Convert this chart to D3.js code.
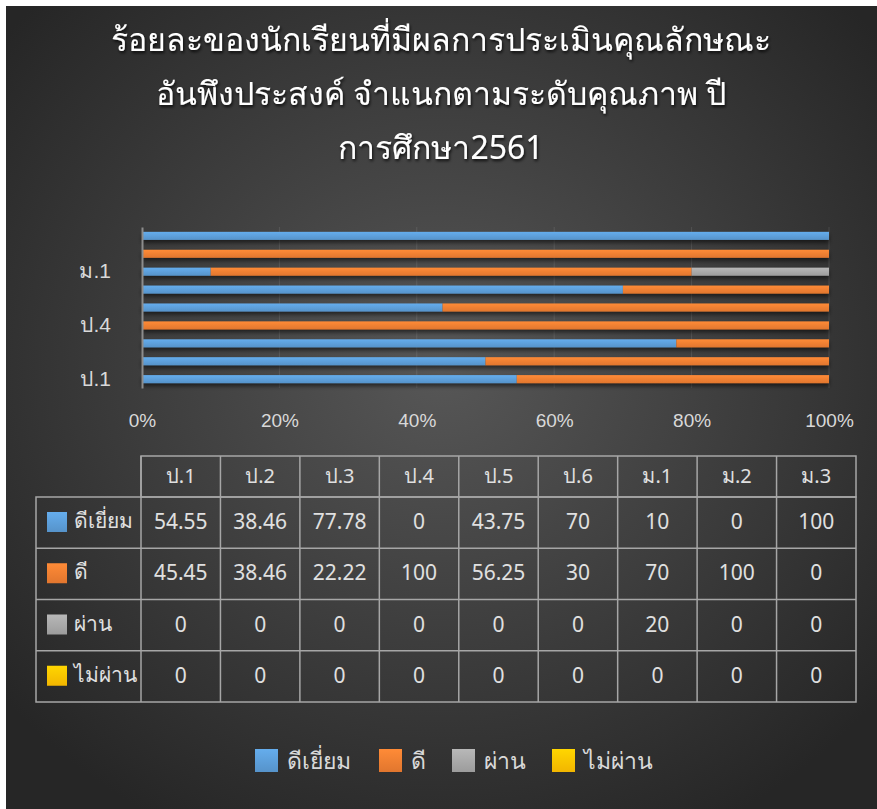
<!DOCTYPE html>
<html>
<head>
<meta charset="utf-8">
<script src="https://cdn.jsdelivr.net/npm/d3@7"></script>
<style>
  html, body { margin: 0; padding: 0; background: #fff; }
  svg { display: block; font-family: "Noto Sans", "DejaVu Sans", sans-serif; }
</style>
</head>
<body>
<script>
// ข้อมูล
const categories = ['ป.1', 'ป.2', 'ป.3', 'ป.4', 'ป.5', 'ป.6', 'ม.1', 'ม.2', 'ม.3'];
const seriesNames = ['ดีเยี่ยม', 'ดี', 'ผ่าน', 'ไม่ผ่าน'];
const excellent = [54.55, 38.46, 77.78, 0, 43.75, 70, 10, 0, 100];
const good = [45.45, 38.46, 22.22, 100, 56.25, 30, 70, 100, 0];
const passed = [0, 0, 0, 0, 0, 0, 20, 0, 0];
const failed = [0, 0, 0, 0, 0, 0, 0, 0, 0];
const axisLabels = ['ป.1', 'ป.4', 'ม.1'];
const titleLines = ['ร้อยละของนักเรียนที่มีผลการประเมินคุณลักษณะ', 'อันพึงประสงค์ จำแนกตามระดับคุณภาพ ปี', 'การศึกษา2561'];

const colors = ['#5b9bd5', '#ed7d31', '#a5a5a5', '#ffc000'];
const seriesValues = [excellent, good, passed, failed];

const rows = categories.map((c, i) => {
    const r = { cat: c };
    seriesNames.forEach((s, j) => r[s] = seriesValues[j][i]);
    return r;
});

const width = 877, height = 809;
const svg = d3.select('body').append('svg')
    .attr('width', width)
    .attr('height', height);

const defs = svg.append('defs');
const bg = defs.append('radialGradient').attr('id', 'bg')
    .attr('cx', '50%').attr('cy', '45%').attr('r', '65%');
bg.append('stop').attr('offset', '0%').attr('stop-color', '#575757');
bg.append('stop').attr('offset', '100%').attr('stop-color', '#262626');

defs.append('filter').attr('id', 'barShadow')
    .attr('x', '-5%').attr('y', '-50%').attr('width', '110%').attr('height', '250%')
    .append('feDropShadow').attr('dx', 0).attr('dy', 3).attr('stdDeviation', 2)
    .attr('flood-color', '#000').attr('flood-opacity', 0.55);
defs.append('filter').attr('id', 'textShadow')
    .append('feDropShadow').attr('dx', 1).attr('dy', 2).attr('stdDeviation', 1.5)
    .attr('flood-color', '#000').attr('flood-opacity', 0.8);

colors.forEach((c, i) => {
    const g = defs.append('linearGradient').attr('id', 'fill' + i)
        .attr('x1', 0).attr('y1', 0).attr('x2', 0).attr('y2', 1);
    g.append('stop').attr('offset', '0%').attr('stop-color', d3.color(c).brighter(0.3));
    g.append('stop').attr('offset', '100%').attr('stop-color', d3.color(c).darker(0.15));
});

svg.append('rect')
    .attr('x', 6).attr('y', 6)
    .attr('width', width - 6).attr('height', height - 6)
    .attr('fill', 'url(#bg)');

// ชื่อกราฟ
svg.append('g')
    .attr('filter', 'url(#textShadow)')
    .selectAll('text')
    .data(titleLines)
    .enter().append('text')
    .attr('x', 441)
    .attr('y', (d, i) => 51 + i * 54)
    .attr('text-anchor', 'middle')
    .attr('fill', '#fff')
    .style('font-size', '32px')
    .text(d => d);

// scales
const x = d3.scaleLinear().domain([0, 1]).range([142, 829]);
const y = d3.scaleBand().domain(categories.slice().reverse()).range([227, 388]).paddingInner(0.55).paddingOuter(0.27);

const stack = d3.stack().keys(seriesNames).offset(d3.stackOffsetExpand);
const stacked = stack(rows);

// gridlines
svg.append('g')
    .selectAll('line')
    .data(x.ticks(5).filter(t => t > 0))
    .enter().append('line')
    .attr('x1', d => x(d)).attr('x2', d => x(d))
    .attr('y1', 227).attr('y2', 388)
    .attr('stroke', '#fff').attr('stroke-opacity', 0.1);

// bars
const gBars = svg.append('g').attr('filter', 'url(#barShadow)');
gBars.selectAll('g')
    .data(stacked)
    .enter().append('g')
    .attr('fill', (d, i) => `url(#fill${i})`)
    .selectAll('rect')
    .data(d => d)
    .enter().append('rect')
    .attr('x', d => x(d[0]))
    .attr('width', d => x(d[1]) - x(d[0]))
    .attr('y', d => y(d.data.cat))
    .attr('height', y.bandwidth());

// axes
const xAxis = svg.append('g')
    .attr('transform', 'translate(0,410)')
    .call(d3.axisBottom(x).ticks(5).tickFormat(d3.format('.0%')).tickSize(0));
xAxis.select('.domain').remove();
xAxis.selectAll('text').attr('fill', '#d9d9d9').style('font-size', '19px').attr('dy', '0.71em');

const yAxis = svg.append('g')
    .attr('transform', 'translate(142,0)')
    .call(d3.axisLeft(y).tickValues(axisLabels).tickSize(0).tickPadding(31));
yAxis.select('.domain').attr('stroke', '#8c8c8c').attr('stroke-width', 2);
yAxis.selectAll('text').attr('fill', '#d9d9d9').style('font-size', '21px');

// ตารางข้อมูล
const colX = d3.scaleBand().domain(categories).range([141, 856]);
const rowY = d3.scaleBand().domain(seriesNames).range([497, 702]);
const tbl = svg.append('g');
const lineColor = '#a6a6a6';

tbl.append('rect').attr('x', 141).attr('y', 456).attr('width', 715).attr('height', 41)
    .attr('fill', 'none').attr('stroke', lineColor).attr('stroke-width', 1.5);
tbl.append('rect').attr('x', 36).attr('y', 497).attr('width', 820).attr('height', 205)
    .attr('fill', 'none').attr('stroke', lineColor).attr('stroke-width', 1.5);
tbl.selectAll('.vline')
    .data(categories)
    .enter().append('line')
    .attr('x1', d => colX(d)).attr('x2', d => colX(d))
    .attr('y1', 456).attr('y2', 702)
    .attr('stroke', lineColor).attr('stroke-width', 1.5);
tbl.selectAll('.hline')
    .data(seriesNames.slice(1))
    .enter().append('line')
    .attr('x1', 36).attr('x2', 856)
    .attr('y1', d => rowY(d)).attr('y2', d => rowY(d))
    .attr('stroke', lineColor).attr('stroke-width', 1.5);

tbl.selectAll('.head')
    .data(categories)
    .enter().append('text')
    .attr('x', d => colX(d) + colX.bandwidth() / 2)
    .attr('y', 483)
    .attr('text-anchor', 'middle')
    .attr('fill', '#e0e0e0')
    .style('font-size', '20px')
    .text(d => d);

seriesNames.forEach((s, j) => {
    const yy = rowY(s);
    tbl.append('rect')
        .attr('x', 47).attr('y', yy + 15).attr('width', 20).attr('height', 20)
        .attr('fill', `url(#fill${j})`);
    tbl.append('text')
        .attr('x', 74).attr('y', yy + 31)
        .attr('fill', '#e0e0e0')
        .style('font-size', '21px')
        .text(s);
    tbl.selectAll('.v' + j)
        .data(seriesValues[j])
        .enter().append('text')
        .attr('x', (d, i) => colX(categories[i]) + colX.bandwidth() / 2)
        .attr('y', yy + 32)
        .attr('text-anchor', 'middle')
        .attr('fill', '#e0e0e0')
        .style('font-size', '21px')
        .text(d => d);
});

// legend
const legendX = [255, 379, 452, 552];
const legend = svg.append('g');
seriesNames.forEach((s, j) => {
    legend.append('rect')
        .attr('x', legendX[j]).attr('y', 749).attr('width', 23).attr('height', 23)
        .attr('fill', `url(#fill${j})`);
    legend.append('text')
        .attr('x', legendX[j] + 32).attr('y', 769)
        .attr('fill', '#d9d9d9')
        .style('font-size', '23px')
        .text(s);
});
</script>
</body>
</html>
